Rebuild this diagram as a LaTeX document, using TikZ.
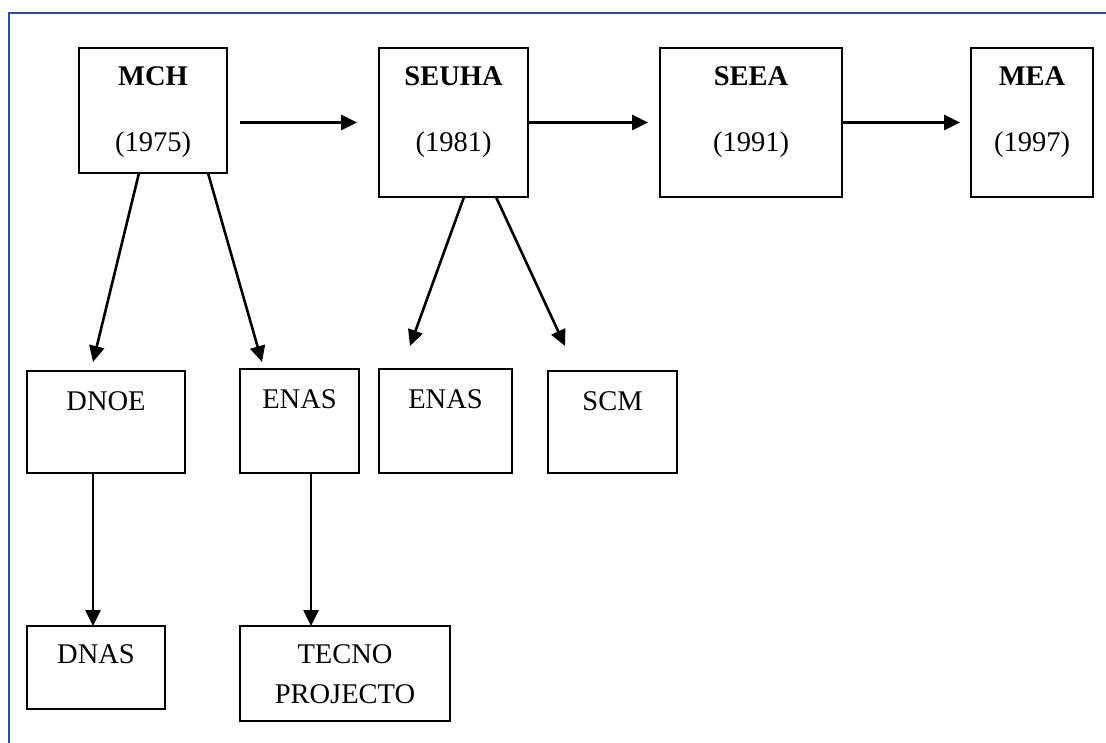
\documentclass[tikz,border=0pt]{standalone}
\usepackage{fontspec}
\setmainfont{Liberation Serif}
\usetikzlibrary{arrows.meta,calc}
\definecolor{framecol}{RGB}{44,80,143}
\begin{document}
\begin{tikzpicture}[x=1pt,y=-1pt,
  box/.style={draw=black,line width=2pt,inner sep=0pt,outer sep=0pt},
  txt/.style={anchor=base,inner sep=0pt,font=\fontsize{28.5}{34}\selectfont},
  btxt/.style={txt,font=\fontsize{28.5}{34}\selectfont\bfseries},
  conn/.style={line width=2.6pt,-{Triangle[length=16pt,width=15pt]}}]
\useasboundingbox (0,0) rectangle (1106,743);
\draw[framecol,line width=2.4pt] (9,743) -- (9,13) -- (1106,13);
% top row
\node[box,minimum width=148pt,minimum height=125pt] (mch) at (153,110.5) {};
\node[box,minimum width=149pt,minimum height=149pt] (seuha) at (453.5,122.5) {};
\node[box,minimum width=182pt,minimum height=149pt] (seea) at (751,122.5) {};
\node[box,minimum width=122pt,minimum height=149pt] (mea) at (1032,122.5) {};
\node[btxt] (tmch) at ($(mch.north)+(0,38)$) {MCH};
\node[txt] (ymch) at ($(mch.north)+(0,104)$) {(1975)};
\node[btxt] (tseuha) at ($(seuha.north)+(0,38)$) {SEUHA};
\node[txt] (yseuha) at ($(seuha.north)+(0,104)$) {(1981)};
\node[btxt] (tseea) at ($(seea.north)+(0,38)$) {SEEA};
\node[txt] (yseea) at ($(seea.north)+(0,104)$) {(1991)};
\node[btxt] (tmea) at ($(mea.north)+(0,38)$) {MEA};
\node[txt] (ymea) at ($(mea.north)+(0,104)$) {(1997)};
% second row
\node[box,minimum width=158pt,minimum height=102pt] (dnoe) at (106,422) {};
\node[box,minimum width=119pt,minimum height=104pt] (enasa) at (299.5,421) {};
\node[box,minimum width=133pt,minimum height=104pt] (enasb) at (445.5,421) {};
\node[box,minimum width=129pt,minimum height=102pt] (scm) at (612.5,422) {};
\node[txt] (tdnoe) at ($(dnoe.north)+(0,39)$) {DNOE};
\node[txt] (tenasa) at ($(enasa.north)+(0,39)$) {ENAS};
\node[txt] (tenasb) at ($(enasb.north)+(0,39)$) {ENAS};
\node[txt] (tscm) at ($(scm.north)+(0,39)$) {SCM};
% third row
\node[box,minimum width=138pt,minimum height=83pt] (dnas) at (96,667.5) {};
\node[box,minimum width=210pt,minimum height=95pt] (tecno) at (345,673.5) {};
\node[txt] (tdnas) at ($(dnas.north)+(0,37)$) {DNAS};
\node[txt] (ttecnoa) at ($(tecno.north)+(0,37)$) {TECNO};
\node[txt] (ttecnob) at ($(tecno.north)+(0,77)$) {PROJECTO};
% connectors
\draw[conn] ($(mch.east |- seuha.west)+(13,0)$) -- ($(seuha.west)+(-22,0)$);
\draw[conn] (seuha.east) -- ($(seea.west)+(-12,0)$);
\draw[conn] (seea.east) -- ($(mea.west)+(-11,0)$);
\draw[conn] ($(mch.south west)+(60,0)$) -- ($(dnoe.north west)+(66,-9)$);
\draw[conn] ($(mch.south west)+(129,0)$) -- ($(enasa.north west)+(22,-7)$);
\draw[conn] ($(seuha.south west)+(85,0)$) -- ($(enasb.north west)+(31,-23)$);
\draw[conn] ($(seuha.south west)+(117,0)$) -- ($(scm.north west)+(17,-25)$);
\draw[conn] ($(dnoe.south west)+(66,0)$) -- ($(dnas.north west)+(66,0)$);
\draw[conn] ($(enasa.south west)+(71,0)$) -- ($(tecno.north west)+(71,0)$);
\end{tikzpicture}
\end{document}
